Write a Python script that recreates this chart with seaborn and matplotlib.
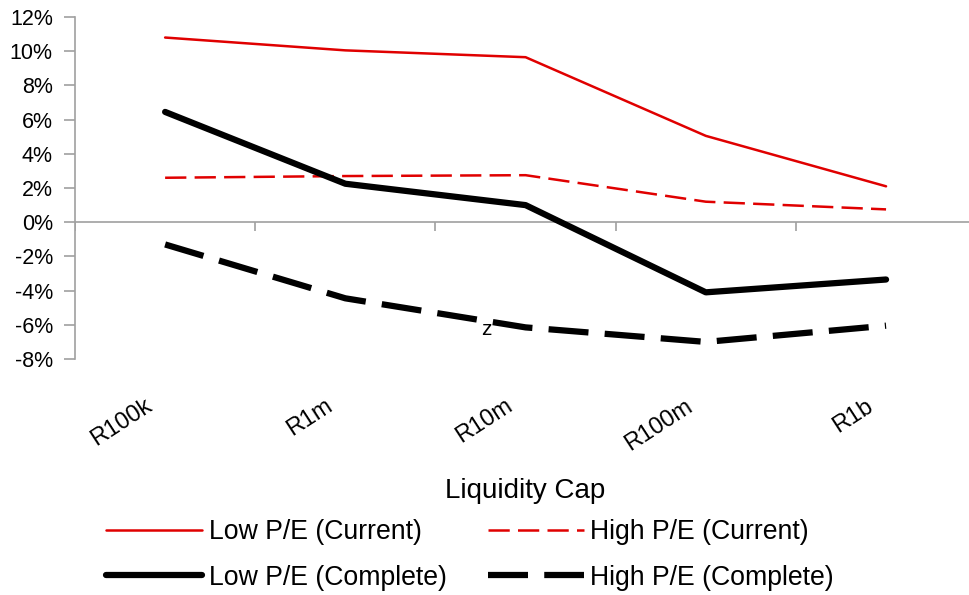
import numpy as np
import pandas as pd
import seaborn as sns
import matplotlib.pyplot as plt
from matplotlib.ticker import PercentFormatter
from matplotlib.transforms import ScaledTranslation

# data (percent)
caps = ["R100k", "R1m", "R10m", "R100m", "R1b"]
low_pe_current = [10.8, 10.05, 9.65, 5.05, 2.1]
high_pe_current = [2.6, 2.7, 2.75, 1.2, 0.75]
low_pe_complete = [6.45, 2.25, 1.0, -4.1, -3.35]
high_pe_complete = [-1.3, -4.45, -6.15, -7.0, -6.05]

sns.set_style("white")
plt.rcParams["font.family"] = ["Liberation Sans", "DejaVu Sans"]
plt.rcParams["axes.unicode_minus"] = False
plt.rcParams["text.color"] = "black"
plt.rcParams["xtick.color"] = "black"
plt.rcParams["ytick.color"] = "black"
plt.rcParams["axes.labelcolor"] = "black"

fig = plt.figure(figsize=(9.69, 5.95), dpi=100)
ax = fig.add_axes([0.0774, 0.3966, 0.93, 0.5748])

series = [
    ("Low P/E (Current)", low_pe_current, "#e00000", 1.8, "-"),
    ("High P/E (Current)", high_pe_current, "#e00000", 1.8, (0, (8.5, 3.3))),
    ("Low P/E (Complete)", low_pe_complete, "black", 4.5, "-"),
    ("High P/E (Complete)", high_pe_complete, "black", 4.5, (0, (6.4, 2.6))),
]
for name, vals, col, lw, ls in series:
    df = pd.DataFrame({"cap": caps, "ret": vals})
    sns.lineplot(data=df, x="cap", y="ret", ax=ax, color=col, lw=lw,
                 linestyle=ls, label=name, sort=False)

ax.set_xlim(-0.5, len(caps) - 0.5)
ax.set_ylim(-8, 12)
ax.set_yticks(np.arange(-8, 13, 2))
ax.yaxis.set_major_formatter(PercentFormatter(decimals=0))

# zero line with category boundary ticks, like the Excel axis
ax.axhline(0, color="#a0a0a0", lw=1.2, zorder=0)
ax.vlines(np.arange(len(caps) + 1) - 0.5, -0.53, 0, color="#a0a0a0", lw=1.2, zorder=0)

for s in ["top", "right", "bottom"]:
    ax.spines[s].set_visible(False)
ax.spines["left"].set_color("#a0a0a0")
ax.spines["left"].set_linewidth(1.2)

ax.tick_params(axis="y", left=True, direction="out", length=8, width=1.2,
               color="#a0a0a0", labelsize=15.5, pad=8, labelcolor="black")
ax.tick_params(axis="x", bottom=False, labelsize=17, pad=29)
shift = ScaledTranslation(-15 / 100, 0, fig.dpi_scale_trans)
for lab in ax.get_xticklabels():
    lab.set_rotation(33)
    lab.set_ha("right")
    lab.set_va("center")
    lab.set_rotation_mode("anchor")
    lab.set_transform(lab.get_transform() + shift)

ax.set_ylabel("")
ax.set_xlabel("Liquidity Cap", fontsize=20)
ax.xaxis.label.set_va("center")
ax.xaxis.set_label_coords(0.5, (359 - 491) / 342)

ax.text(1.78, -6.3, "z", fontsize=15, ha="center", va="center")

h, l = ax.get_legend_handles_labels()
order = [0, 2, 1, 3]
ax.legend([h[i] for i in order], [l[i] for i in order],
          loc="center", bbox_to_anchor=(470 / 969, 1 - 555 / 595),
          bbox_transform=fig.transFigure, ncol=2, frameon=False, fontsize=19.2,
          handlelength=3.6, handletextpad=0.23, columnspacing=1.55,
          labelspacing=0.72, borderpad=0)

fig.savefig("out.png", dpi=100)
